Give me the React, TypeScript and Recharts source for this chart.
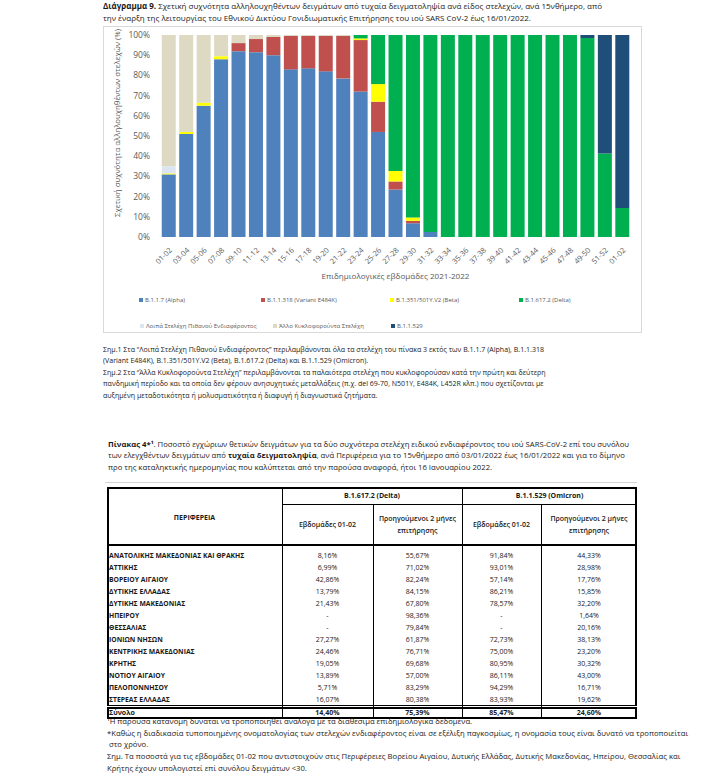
import React, { useLayoutEffect, useRef } from 'react';
import { BarChart, Bar, XAxis, YAxis, Legend } from 'recharts';

const FONT = "'Open Sans', 'Noto Sans', sans-serif";
const TXT = '#1a1a1a';
const AXIS_TXT = '#595959';

// ---------- chart data ----------
const weeks = ['01-02','03-04','05-06','07-08','09-10','11-12','13-14','15-16','17-18','19-20','21-22','23-24','25-26','27-28','29-30','31-32','33-34','35-36','37-38','39-40','41-42','43-44','45-46','47-48','49-50','51-52','01-02'];
const alpha   = [31, 51, 65, 88, 92, 91.5, 90, 83, 83.5, 82, 78.5, 72, 52, 23.5, 6.8, 2.5, 0, 0, 0, 0, 0, 0, 0, 0, 0, 0, 0];
const e484k   = [0, 0, 0, 0, 4, 6.5, 9, 16.5, 16, 17.5, 21, 25.5, 15, 4, 1.2, 0, 0, 0, 0, 0, 0, 0, 0, 0, 0, 0, 0];
const beta    = [0.5, 1, 1.5, 1.5, 0, 0, 0, 0, 0, 0, 0, 0.8, 8.7, 5.2, 1.7, 0, 0, 0, 0, 0, 0, 0, 0, 0, 0, 0, 0];
const delta   = [0, 0, 0, 0, 0, 0, 0, 0, 0, 0, 0, 1.7, 24.3, 67.3, 90.3, 97.5, 100, 100, 100, 100, 100, 100, 100, 100, 98.5, 41.3, 14.4];
const omicron = [0, 0, 0, 0, 0, 0, 0, 0, 0, 0, 0, 0, 0, 0, 0, 0, 0, 0, 0, 0, 0, 0, 0, 0, 1.5, 58.7, 85.6];
const lipa    = [3.5, 0, 0, 0, 0, 0, 0, 0, 0, 0, 0, 0, 0, 0, 0, 0, 0, 0, 0, 0, 0, 0, 0, 0, 0, 0, 0];
const allo    = [65, 48, 33.5, 10.5, 4, 2, 1, 0.5, 0.5, 0.5, 0.5, 0, 0, 0, 0, 0, 0, 0, 0, 0, 0, 0, 0, 0, 0, 0, 0];
const yTicks = [0, 10, 20, 30, 40, 50, 60, 70, 80, 90, 100];

const series = [
  { key: 'alpha', name: 'B.1.1.7 (Alpha)', color: '#4F81BD', values: alpha },
  { key: 'e484k', name: 'B.1.1.318 (Variant E484K)', color: '#C0504D', values: e484k },
  { key: 'beta', name: 'B.1.351/501Y.V2 (Beta)', color: '#FFFF00', values: beta },
  { key: 'delta', name: 'B.1.617.2 (Delta)', color: '#00B050', values: delta },
  { key: 'omicron', name: 'B.1.1.529', color: '#1F4E79', values: omicron },
  { key: 'lipa', name: 'Λοιπά Στελέχη Πιθανού Ενδιαφέροντος', color: '#DCE6F2', values: lipa },
  { key: 'allo', name: 'Άλλο Κυκλοφορούντα Στελέχη', color: '#DDD9C3', values: allo },
];
const legendPos: Record<string, { left: number; top: number }> = {
  alpha: { left: 35, top: 273 },
  e484k: { left: 157, top: 273 },
  beta: { left: 286, top: 273 },
  delta: { left: 415, top: 273 },
  lipa: { left: 36, top: 299 },
  allo: { left: 169, top: 299 },
  omicron: { left: 287, top: 299 },
};

const chartData = weeks.map((w, i) => {
  const row: Record<string, any> = { week: w };
  series.forEach((s) => { row[s.key] = s.values[i]; });
  return row;
});

// ---------- table data ----------
const regions = ['ΑΝΑΤΟΛΙΚΗΣ ΜΑΚΕΔΟΝΙΑΣ ΚΑΙ ΘΡΑΚΗΣ','ΑΤΤΙΚΗΣ','ΒΟΡΕΙΟΥ ΑΙΓΑΙΟΥ','ΔΥΤΙΚΗΣ ΕΛΛΑΔΑΣ','ΔΥΤΙΚΗΣ ΜΑΚΕΔΟΝΙΑΣ','ΗΠΕΙΡΟΥ','ΘΕΣΣΑΛΙΑΣ','ΙΟΝΙΩΝ ΝΗΣΩΝ','ΚΕΝΤΡΙΚΗΣ ΜΑΚΕΔΟΝΙΑΣ','ΚΡΗΤΗΣ','ΝΟΤΙΟΥ ΑΙΓΑΙΟΥ','ΠΕΛΟΠΟΝΝΗΣΟΥ','ΣΤΕΡΕΑΣ ΕΛΛΑΔΑΣ'];
const deltaWeeks = ['8,16%','6,99%','42,86%','13,79%','21,43%','-','-','27,27%','24,46%','19,05%','13,89%','5,71%','16,07%'];
const deltaPrev = ['55,67%','71,02%','82,24%','84,15%','67,80%','98,36%','79,84%','61,87%','76,71%','69,68%','57,00%','83,29%','80,38%'];
const omiWeeks = ['91,84%','93,01%','57,14%','86,21%','78,57%','-','-','72,73%','75,00%','80,95%','86,11%','94,29%','83,93%'];
const omiPrev = ['44,33%','28,98%','17,76%','15,85%','32,20%','1,64%','20,16%','38,13%','23,20%','30,32%','43,00%','16,71%','19,62%'];
const totals = ['14,40%','75,39%','85,47%','24,60%'];

// ---------- helpers ----------
type BlockLine = { y: number; dx?: number; node: React.ReactNode };

// All lines of a paragraph share one horizontal scale, taken from a reference line of known width.
function TextBlock({ x, size, refW, refIdx = 0, lines }: { x: number; size: number; refW: number; refIdx?: number; lines: BlockLine[] }) {
  const refs = useRef<(HTMLDivElement | null)[]>([]);
  useLayoutEffect(() => {
    const fit = () => {
      const els = refs.current;
      els.forEach((el) => { if (el) el.style.transform = 'none'; });
      const r = els[refIdx];
      if (!r) return;
      const nat = r.getBoundingClientRect().width;
      if (!(nat > 0)) return;
      const k = refW / nat;
      els.forEach((el) => { if (el) el.style.transform = `scaleX(${k})`; });
    };
    fit();
    const f: any = (document as any).fonts;
    if (f && f.ready) f.ready.then(fit);
  }, [refW, refIdx]);
  return (
    <>
      {lines.map((ln, i) => (
        <div
          key={i}
          ref={(el) => { refs.current[i] = el; }}
          style={{
            position: 'absolute', left: x + (ln.dx || 0), top: ln.y - size * 0.7, fontSize: size, lineHeight: `${size * 1.4}px`,
            whiteSpace: 'nowrap', transformOrigin: '0 0', color: TXT, fontFamily: FONT,
          }}
        >
          {ln.node}
        </div>
      ))}
    </>
  );
}

function CText({ cx, y, size, children, weight = 400 }: any) {
  return (
    <div style={{ position: 'absolute', left: cx - 60, width: 120, top: y - size * 0.7, lineHeight: `${size * 1.4}px`, fontSize: size, textAlign: 'center', whiteSpace: 'nowrap', fontWeight: weight, fontFamily: FONT, color: TXT }}>
      {children}
    </div>
  );
}

const colX = [107, 282, 373, 462, 541, 637];
const colCenter = (i: number) => (colX[i] + colX[i + 1]) / 2;
const rowY = (i: number) => 556 + i * 12;

function Table() {
  const line = (left: number, top: number, width: number, height: number) => (
    <div style={{ position: 'absolute', left, top, width, height, background: '#000' }} />
  );
  return (
    <>
      <div style={{ position: 'absolute', left: 105, top: 482, width: 532, height: 1, background: '#d4d4d4' }} />
      <div style={{ position: 'absolute', left: 107, top: 487, width: 530, height: 232, border: '2px solid #000', boxSizing: 'border-box' }} />
      {line(282, 487, 1, 232)}
      {line(462, 487, 1, 232)}
      {line(373, 504, 1, 215)}
      {line(541, 504, 1, 215)}
      {line(282, 504, 355, 1)}
      {line(107, 544, 530, 2)}
      <div style={{ position: 'absolute', left: 107, top: 705, width: 530, height: 4, borderTop: '1px solid #000', borderBottom: '2px solid #000', boxSizing: 'border-box', background: '#fff' }} />
      {line(282, 706, 1, 2)}
      {line(462, 706, 1, 2)}
      {line(373, 706, 1, 2)}
      {line(541, 706, 1, 2)}
      <CText cx={(282 + 462) / 2} y={496} size={7} weight={700}>B.1.617.2 (Delta)</CText>
      <CText cx={(462 + 637) / 2} y={496} size={7} weight={700}>B.1.1.529 (Omicron)</CText>
      <CText cx={colCenter(0)} y={518} size={7} weight={700}>ΠΕΡΙΦΕΡΕΙΑ</CText>
      <CText cx={colCenter(1)} y={525} size={7} weight={600}>Εβδομάδες 01-02</CText>
      <CText cx={colCenter(2)} y={519} size={7} weight={600}>Προηγούμενοι 2 μήνες</CText>
      <CText cx={colCenter(2)} y={531} size={7} weight={600}>επιτήρησης</CText>
      <CText cx={colCenter(3)} y={525} size={7} weight={600}>Εβδομάδες 01-02</CText>
      <CText cx={colCenter(4)} y={519} size={7} weight={600}>Προηγούμενοι 2 μήνες</CText>
      <CText cx={colCenter(4)} y={531} size={7} weight={600}>επιτήρησης</CText>
      {regions.map((r, i) => (
        <React.Fragment key={i}>
          <div style={{ position: 'absolute', left: 109, top: rowY(i) - 5, lineHeight: '10px', fontSize: 6.8, fontWeight: 700, fontFamily: FONT, color: TXT, whiteSpace: 'nowrap' }}>{r}</div>
          <CText cx={colCenter(1)} y={rowY(i)} size={7}>{deltaWeeks[i]}</CText>
          <CText cx={colCenter(2)} y={rowY(i)} size={7}>{deltaPrev[i]}</CText>
          <CText cx={colCenter(3)} y={rowY(i)} size={7}>{omiWeeks[i]}</CText>
          <CText cx={colCenter(4)} y={rowY(i)} size={7}>{omiPrev[i]}</CText>
        </React.Fragment>
      ))}
      <div style={{ position: 'absolute', left: 109, top: 708, lineHeight: '10px', fontSize: 7, fontWeight: 700, fontFamily: FONT, color: TXT }}>Σύνολο</div>
      {totals.map((t, i) => (
        <CText key={i} cx={colCenter(i + 1)} y={713} size={7} weight={700}>{t}</CText>
      ))}
    </>
  );
}

function LegendContent() {
  return (
    <div style={{ position: 'relative', width: 537, height: 305 }}>
      {series.map((s) => (
        <div key={s.key} style={{ position: 'absolute', left: legendPos[s.key].left, top: legendPos[s.key].top - 5, height: 10, display: 'flex', alignItems: 'center', fontSize: 6, color: AXIS_TXT, whiteSpace: 'nowrap', fontFamily: FONT }}>
          <span style={{ display: 'inline-block', width: 4, height: 4, background: s.color, marginRight: 2 }} />
          {s.name}
        </div>
      ))}
    </div>
  );
}

function YLabel(props: any) {
  const vb = props.viewBox || { x: 0, y: 0, width: 0, height: 0 };
  const cx = vb.x + 13;
  const cy = vb.y + vb.height / 2 - 13;
  return (
    <text x={cx} y={cy} transform={`rotate(-90 ${cx} ${cy})`} textAnchor="middle" dominantBaseline="central" fontSize={7.3} fill={AXIS_TXT} fontFamily={FONT} textLength={188} lengthAdjust="spacingAndGlyphs">
      Σχετική συχνότητα αλληλουχηθέντων στελεχών (%)
    </text>
  );
}

function XLabel(props: any) {
  const vb = props.viewBox || { x: 0, y: 0, width: 0, height: 0 };
  const cx = vb.x + vb.width / 2;
  const cy = vb.y + vb.height + 8;
  return (
    <text x={cx} y={cy} textAnchor="middle" dominantBaseline="central" fontSize={8} fill={AXIS_TXT} fontFamily={FONT} textLength={148} lengthAdjust="spacingAndGlyphs">
      Επιδημιολογικές εβδομάδες 2021-2022
    </text>
  );
}

export default function App() {
  return (
    <div style={{ position: 'absolute', left: 0, top: 0, width: 728, height: 775, background: '#fff', fontFamily: FONT, overflow: 'hidden' }}>
      <TextBlock x={103} size={8} refW={499} refIdx={0} lines={[
        { y: 6, node: <><b>Διάγραμμα 9.</b> Σχετική συχνότητα αλληλουχηθέντων δειγμάτων από τυχαία δειγματοληψία ανά είδος στελεχών, ανά 15νθήμερο, από</> },
        { y: 17.5, node: 'την έναρξη της λειτουργίας του Εθνικού Δικτύου Γονιδιωματικής Επιτήρησης του ιού SARS CoV-2 έως 16/01/2022.' },
      ]} />

      <div style={{ position: 'absolute', left: 103, top: 26, width: 537, height: 305, border: '1px solid #D9D9D9' }}>
        <BarChart width={537} height={305} data={chartData} margin={{ top: 8, right: 10, left: 0, bottom: 65 }} barCategoryGap="10%">
          <XAxis
            dataKey="week"
            interval={0}
            angle={-45}
            textAnchor="end"
            height={30}
            axisLine={false}
            tickLine={false}
            tickMargin={4}
            tick={{ fontSize: 7.5, fill: AXIS_TXT, fontFamily: FONT }}
            label={<XLabel />}
          />
          <YAxis
            width={56}
            domain={[0, 100]}
            ticks={yTicks}
            interval={0}
            tickFormatter={(v: number) => `${v}%`}
            axisLine={false}
            tickLine={false}
            tickMargin={4}
            tick={{ fontSize: 8.5, fill: AXIS_TXT, fontFamily: FONT }}
            label={<YLabel />}
          />
          <Legend
            layout="horizontal"
            verticalAlign="middle"
            align="center"
            wrapperStyle={{ top: 0, left: 0, width: 537, height: 305, pointerEvents: 'none' }}
            content={() => <LegendContent />}
          />
          {series.map((s) => (
            <Bar key={s.key} dataKey={s.key} name={s.name} stackId="a" fill={s.color} isAnimationActive={false} />
          ))}
        </BarChart>
      </div>

      <TextBlock x={103} size={7.5} refW={441} refIdx={0} lines={[
        { y: 349, node: 'Σημ.1 Στα “Λοιπά Στελέχη Πιθανού Ενδιαφέροντος” περιλαμβάνονται όλα τα στελέχη του πίνακα 3 εκτός των B.1.1.7 (Alpha), B.1.1.318' },
        { y: 360.5, node: '(Variant E484K), B.1.351/501Y.V2 (Beta), B.1.617.2 (Delta) και B.1.1.529 (Omicron).' },
        { y: 372, node: 'Σημ.2 Στα “Άλλα Κυκλοφορούντα Στελέχη” περιλαμβάνονται τα παλαιότερα στελέχη που κυκλοφορούσαν κατά την πρώτη και δεύτερη' },
        { y: 383.5, node: 'πανδημική περίοδο και τα οποία δεν φέρουν ανησυχητικές μεταλλάξεις (π.χ. del 69-70, N501Y, E484K, L452R κλπ.) που σχετίζονται με' },
        { y: 395, node: 'αυξημένη μεταδοτικότητα ή μολυσματικότητα ή διαφυγή ή διαγνωστικά ζητήματα.' },
      ]} />

      <TextBlock x={108} size={7.5} refW={521} refIdx={0} lines={[
        { y: 444, node: <><b>Πίνακας 4*¹</b>. Ποσοστό εγχώριων θετικών δειγμάτων για τα δύο συχνότερα στελέχη ειδικού ενδιαφέροντος του ιού SARS-CoV-2 επί του συνόλου</> },
        { y: 455.5, node: <>των ελεγχθέντων δειγμάτων από <b>τυχαία δειγματοληψία</b>, ανά Περιφέρεια για το 15νθήμερο από 03/01/2022 έως 16/01/2022 και για το δίμηνο</> },
        { y: 467, node: 'προ της καταληκτικής ημερομηνίας που καλύπτεται από την παρούσα αναφορά, ήτοι 16 Ιανουαρίου 2022.' },
      ]} />

      <Table />

      <TextBlock x={107} size={7} refW={581} refIdx={1} lines={[
        { y: 722, node: '¹Η παρούσα κατανομή δύναται να τροποποιηθεί ανάλογα με τα διαθέσιμα επιδημιολογικά δεδομένα.' },
        { y: 733.5, node: '*Καθώς η διαδικασία τυποποιημένης ονοματολογίας των στελεχών ενδιαφέροντος είναι σε εξέλιξη παγκοσμίως, η ονομασία τους είναι δυνατό να τροποποιείται' },
        { y: 745, dx: 2, node: 'στο χρόνο.' },
        { y: 757, node: 'Σημ. Τα ποσοστά για τις εβδομάδες 01-02 που αντιστοιχούν στις Περιφέρειες Βορείου Αιγαίου, Δυτικής Ελλάδας, Δυτικής Μακεδονίας, Ηπείρου, Θεσσαλίας και' },
        { y: 768.5, node: 'Κρήτης έχουν υπολογιστεί επί συνόλου δειγμάτων <30.' },
      ]} />
    </div>
  );
}
